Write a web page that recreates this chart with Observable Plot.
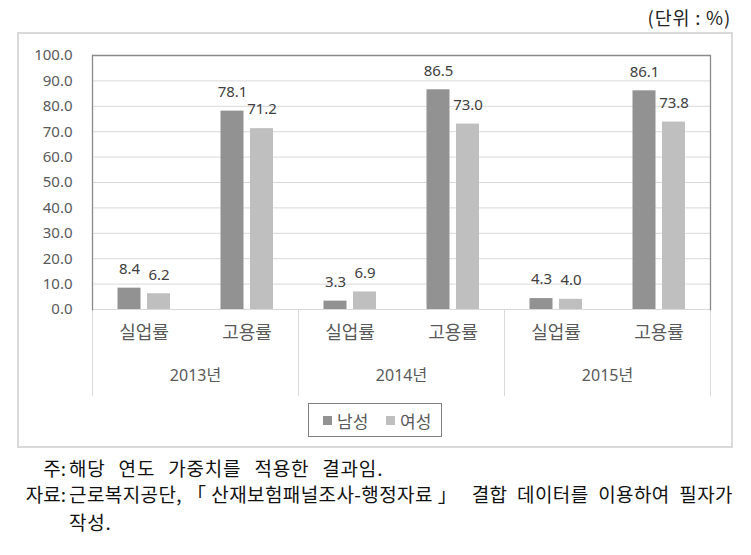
<!DOCTYPE html>
<html><head><meta charset="utf-8">
<script src="https://cdn.jsdelivr.net/npm/d3@7"></script>
<script src="https://cdn.jsdelivr.net/npm/@observablehq/plot@0.6"></script>
<style>
body{margin:0;background:#fff;}
#page{position:relative;width:751px;height:555px;overflow:hidden;font-family:"Noto Sans","Noto Sans CJK KR",sans-serif;}
#unit{position:absolute;left:560px;width:171px;text-align:right;top:3px;font-size:18.5px;letter-spacing:0.8px;line-height:28px;color:#222;font-family:"Noto Sans CJK KR",sans-serif;}
#frame{position:absolute;left:17px;top:32px;width:712px;height:412px;border:2px solid #d9d9d9;}
#chart{position:absolute;left:0;top:40px;}
#legend{position:absolute;left:308px;top:403px;width:132px;height:32px;border:1px solid #7f7f7f;font-family:"Noto Sans CJK KR",sans-serif;font-size:17px;color:#595959;}
#legend .it{position:absolute;top:0;height:32px;display:flex;align-items:center;}
#legend .sw{width:9px;height:9px;margin-right:5px;}
.note{position:absolute;font-family:"Noto Sans CJK KR",sans-serif;font-size:19px;line-height:27px;color:#111;letter-spacing:0.8px;}
.lab{position:absolute;left:0;width:66px;text-align:right;letter-spacing:0;}
.txt{position:absolute;left:69px;width:664px;white-space:nowrap;}
</style></head>
<body>
<div id="page">
  <div id="unit">(단위 : %)</div>
  <div id="frame"></div>
  <div id="chart"></div>
  <div id="legend"></div>
  <div class="note" style="top:454px;left:0;width:751px;height:27px"><span class="lab">주:</span><span class="txt" style="word-spacing:8px">해당 연도 가중치를 적용한 결과임.</span></div>
  <div class="note" style="top:480px;left:0;width:751px;height:27px"><span class="lab">자료:</span><span class="txt" style="text-align:justify;text-align-last:justify;white-space:normal;letter-spacing:0.4px">근로복지공단,「산재보험패널조사-행정자료」 결합 데이터를 이용하여 필자가</span></div>
  <div class="note" style="top:508px;left:0;width:751px;height:27px"><span class="txt">작성.</span></div>
</div>
<script>
const years = ["2013년", "2014년", "2015년"];
const cats = ["실업률", "고용률"];
const sexes = ["남성", "여성"];
const male = [8.4, 78.1, 3.3, 86.5, 4.3, 86.1];
const female = [6.2, 71.2, 6.9, 73.0, 4.0, 73.8];
const yTicks = [0, 10, 20, 30, 40, 50, 60, 70, 80, 90, 100];
const colors = ["#929292", "#bfbfbf"];

const rows = [];
years.forEach((yr, i) => cats.forEach((c, j) => {
  rows.push({year: yr, cat: c, sex: sexes[0], value: male[i * 2 + j]});
  rows.push({year: yr, cat: c, sex: sexes[1], value: female[i * 2 + j]});
}));
const mRows = rows.filter(d => d.sex === sexes[0]);
const fRows = rows.filter(d => d.sex === sexes[1]);

const W = 751, H = 365, mT = 15, mB = 96, mL = 92, mR = 41;
const plotH = H - mT - mB;
const font = '"Noto Sans","Noto Sans CJK KR",sans-serif';

const chart = Plot.plot({
  width: W, height: H,
  marginTop: mT, marginBottom: mB, marginLeft: mL, marginRight: mR,
  style: {fontFamily: font, background: "transparent", overflow: "visible"},
  fx: {domain: years, padding: 0, axis: null},
  x: {domain: cats, padding: 0, axis: null},
  y: {domain: [0, 100]},
  marks: [
    Plot.ruleY(yTicks.filter(d => d > 0 && d < 100), {stroke: "#d9d9d9", strokeWidth: 1}),
    Plot.ruleY([0], {stroke: "#d9d9d9", strokeWidth: 1}),
    Plot.frame({anchor: "left", insetTop: plotH, insetBottom: -86, stroke: "#d9d9d9"}),
    Plot.frame({anchor: "right", insetTop: plotH, insetBottom: -86, stroke: "#d9d9d9"}),
    Plot.ruleY([100], {stroke: "#8a8a8a", strokeWidth: 1.3}),
    Plot.frame({facet: "super", anchor: "left", stroke: "#8a8a8a", strokeWidth: 1.3}),
    Plot.frame({facet: "super", anchor: "right", stroke: "#8a8a8a", strokeWidth: 1.3}),
    Plot.barY(mRows, {fx: "year", x: "cat", y: "value", fill: colors[0], insetLeft: 25.5, insetRight: 54.5}),
    Plot.barY(fRows, {fx: "year", x: "cat", y: "value", fill: colors[1], insetLeft: 55, insetRight: 25}),
    Plot.text(mRows, {fx: "year", x: "cat", y: "value", text: d => d.value.toFixed(1), dx: -14.5, dy: -19, fontSize: 15, fill: "#404040"}),
    Plot.text(fRows, {fx: "year", x: "cat", y: "value", text: d => d.value.toFixed(1), dx: 15, dy: -19, fontSize: 15, fill: "#404040"}),
    Plot.text(mRows, {fx: "year", x: "cat", text: "cat", frameAnchor: "bottom", dy: 29, fontSize: 18, fill: "#595959", fontFamily: '"Noto Sans CJK KR",sans-serif'}),
    Plot.text(years, {fx: d => d, text: d => d, frameAnchor: "bottom", dy: 71, fontSize: 16, fill: "#595959"}),
    Plot.axisY(yTicks, {facetAnchor: "left", tickFormat: d => d.toFixed(1), tickSize: 0, tickPadding: 20, fontSize: 15, color: "#595959", label: null})
  ]
});
document.getElementById("chart").appendChild(chart);

const lg = document.getElementById("legend");
const lefts = [14, 77];
sexes.forEach((s, i) => {
  const it = document.createElement("div");
  it.className = "it";
  it.style.left = lefts[i] + "px";
  const sw = document.createElement("div");
  sw.className = "sw";
  sw.style.background = colors[i];
  const tx = document.createElement("span");
  tx.textContent = s;
  it.appendChild(sw); it.appendChild(tx);
  lg.appendChild(it);
});
</script>
</body></html>
